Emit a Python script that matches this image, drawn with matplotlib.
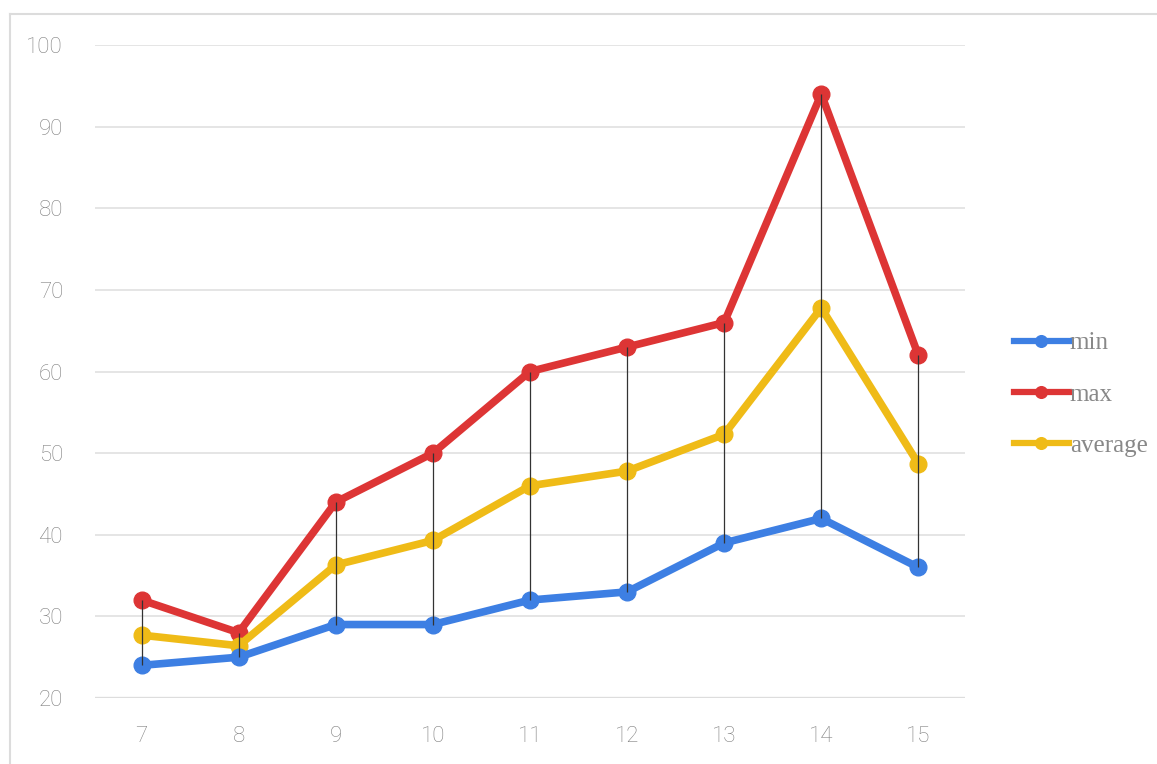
import matplotlib.pyplot as plt
from matplotlib.lines import Line2D

# readings per x position
x_vals = [7, 8, 9, 10, 11, 12, 13, 14, 15]
min_vals = [24, 25, 29, 29, 32, 33, 39, 42, 36]
max_vals = [32, 28, 44, 50, 60, 63, 66, 94, 62]
avg_vals = [27.7, 26.4, 36.3, 39.3, 46, 47.8, 52.3, 67.8, 48.7]
y_ticks = [20, 30, 40, 50, 60, 70, 80, 90, 100]

blue = '#3d7fe3'
red = '#dd3535'
yellow = '#efbb17'
tick_color = '#808080'

fig = plt.figure(figsize=(11.57, 7.64), dpi=100)
ax = fig.add_axes([0.0821, 0.0864, 0.834 - 0.0821, 0.941 - 0.0864])

ax.plot(x_vals, max_vals, color=red, lw=5.5, marker='o', ms=12, zorder=3, label='max')
ax.plot(x_vals, avg_vals, color=yellow, lw=5.5, marker='o', ms=12, zorder=4, label='average')
ax.plot(x_vals, min_vals, color=blue, lw=5.5, marker='o', ms=12, zorder=5, label='min')

# high-low connectors
ax.vlines(x_vals, min_vals, max_vals, color='#333333', lw=0.9, zorder=6)

ax.set_xlim(6.52, 15.48)
ax.set_ylim(20, 100)
ax.set_xticks(x_vals)
ax.set_yticks(y_ticks)
ax.grid(axis='y', color='#e0e0e0', lw=1.2, zorder=0)
ax.axhline(20, color='#cfcfcf', lw=1.6, zorder=1)
for s in ax.spines.values():
    s.set_visible(False)
ax.tick_params(length=0, colors=tick_color, labelsize=16)
ax.tick_params(axis='x', pad=20)
ax.tick_params(axis='y', pad=23)
for lab in ax.get_xticklabels() + ax.get_yticklabels():
    lab.set_fontfamily('Roboto')
    lab.set_fontweight('light')

handles, labels = ax.get_legend_handles_labels()
order = [2, 0, 1]
leg = ax.legend([handles[i] for i in order], [labels[i] for i in order],
                loc='center left', bbox_to_anchor=(1.03, 0.465), frameon=False,
                prop={'family': 'Liberation Serif', 'size': 18},
                handlelength=2.2, handletextpad=0.05, labelspacing=1.15,
                markerscale=0.7, labelcolor='#888888')
for h in leg.legend_handles:
    h.set_linewidth(4.5)

# outer frame
fig.add_artist(Line2D([10 / 1157, 1], [1 - 14 / 764, 1 - 14 / 764], color='#dcdcdc', lw=1.5))
fig.add_artist(Line2D([10 / 1157, 10 / 1157], [0, 1 - 14 / 764], color='#dcdcdc', lw=1.5))

fig.savefig('out.png', dpi=100, facecolor='white')
